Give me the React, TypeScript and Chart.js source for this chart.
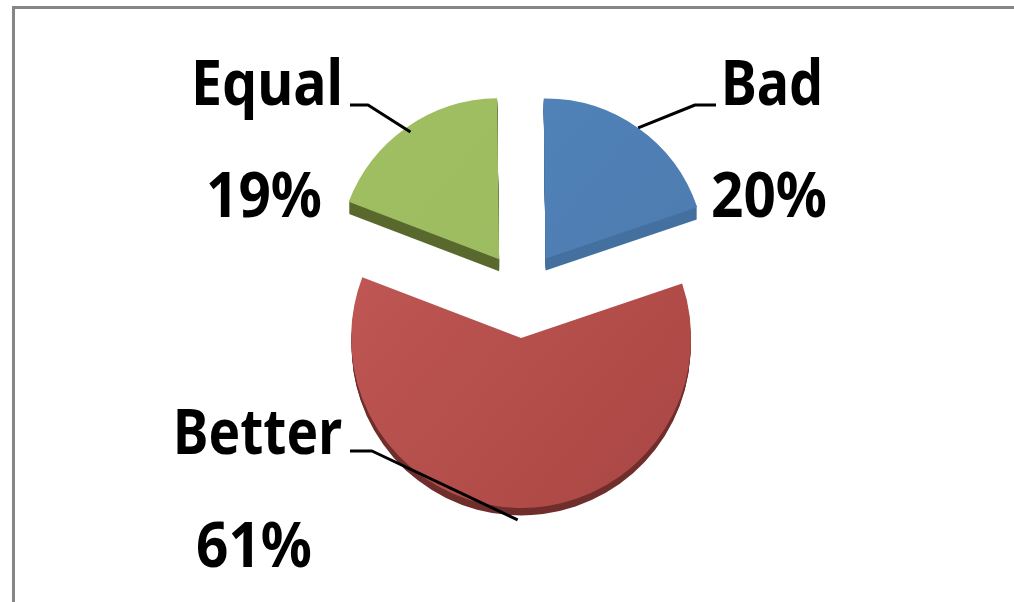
import React, { useEffect, useRef } from "react";
import { Chart, registerables } from "chart.js";

Chart.register(...registerables);

const categories = ["Bad", "Better", "Equal"];
const shares = [20, 61, 19];
const percentLabels = ["20%", "61%", "19%"];

const topLeftColors = ["#5386BD", "#C55C58", "#A0BE62"];
const bottomRightColors = ["#4B79AC", "#AC4845", "#9BB95E"];
const rimColors = ["#44709F", "#6F2E2C", "#59692E"];
const explode = [41, 46, 40];
const drawnRadius = [160, 170, 161];
const rimDepth = [12, 8, 12];

// Text boxes: [left, baseline, width] for name and for percentage
const nameBoxes = [
  [721, 105, 102],
  [173, 454, 169],
  [191, 105, 152],
];
const percentBoxes = [
  [711, 217, 116],
  [196, 567, 116],
  [206, 217, 116],
];
// Leader line: text end and elbow
const leaderStart = [
  [716, 105, 695, 105],
  [350, 451, 372, 451],
  [350, 105, 368, 105],
];
const leaderInset = [0, -12, 6];

const piePlugin = {
  id: "pieDecor",
  beforeDraw(chart: any) {
    const { ctx, width, height } = chart;
    ctx.save();
    ctx.fillStyle = "#ffffff";
    ctx.fillRect(0, 0, width, height);
    ctx.strokeStyle = "#868686";
    ctx.lineWidth = 3;
    ctx.beginPath();
    ctx.moveTo(13.5, height);
    ctx.lineTo(13.5, 7.5);
    ctx.lineTo(width, 7.5);
    ctx.stroke();
    ctx.restore();
  },
  afterDatasetUpdate(chart: any) {
    // explode each slice along its mid-angle and give it its own radius
    chart.getDatasetMeta(0).data.forEach((arc: any, i: number) => {
      const mid = (arc.startAngle + arc.endAngle) / 2;
      arc.x += Math.cos(mid) * explode[i];
      arc.y += Math.sin(mid) * explode[i];
      arc.outerRadius = drawnRadius[i];
    });
  },
  beforeDatasetsDraw(chart: any) {
    const { ctx } = chart;
    chart.getDatasetMeta(0).data.forEach((arc: any, i: number) => {
      ctx.save();
      ctx.fillStyle = rimColors[i];
      for (let d = 1; d <= rimDepth[i]; d++) {
        const cy = arc.y + d;
        ctx.beginPath();
        ctx.moveTo(arc.x, cy);
        ctx.arc(arc.x, cy, arc.outerRadius - 0.5, arc.startAngle, arc.endAngle);
        ctx.closePath();
        ctx.fill();
      }
      ctx.restore();
    });
  },
  afterDatasetsDraw(chart: any) {
    const { ctx } = chart;
    chart.getDatasetMeta(0).data.forEach((arc: any, i: number) => {
      const mid = (arc.startAngle + arc.endAngle) / 2;
      const r = arc.outerRadius - leaderInset[i];
      const ex = arc.x + Math.cos(mid) * r;
      const ey = arc.y + Math.sin(mid) * r;
      const [sx, sy, ax, ay] = leaderStart[i];
      ctx.save();
      ctx.strokeStyle = "#000000";
      ctx.lineWidth = 3;
      ctx.lineJoin = "round";
      ctx.beginPath();
      ctx.moveTo(sx, sy);
      ctx.lineTo(ax, ay);
      ctx.lineTo(ex, ey);
      ctx.stroke();

      ctx.fillStyle = "#000000";
      ctx.textAlign = "left";
      ctx.textBaseline = "alphabetic";
      ctx.font = 'bold 62px "Noto Sans", sans-serif';
      const [nx, ny, nw] = nameBoxes[i];
      ctx.fillText(categories[i], nx, ny, nw);
      const [px, py, pw] = percentBoxes[i];
      ctx.fillText(percentLabels[i], px, py, pw);
      ctx.restore();
    });
  },
};

export default function App() {
  const ref = useRef<HTMLCanvasElement | null>(null);
  useEffect(() => {
    const canvas = ref.current;
    if (!canvas) return;
    const ctx2d = canvas.getContext("2d")!;
    const fills = topLeftColors.map((c, i) => {
      const g = ctx2d.createLinearGradient(340, 100, 700, 400);
      g.addColorStop(0, c);
      g.addColorStop(1, bottomRightColors[i]);
      return g;
    });
    const chart = new Chart(canvas, {
      type: "pie",
      data: {
        labels: categories,
        datasets: [
          {
            data: shares,
            backgroundColor: fills,
            borderWidth: 0,
          },
        ],
      },
      options: {
        responsive: false,
        animation: false,
        devicePixelRatio: 1,
        radius: 160,
        rotation: -0.7,
        layout: { padding: { left: 30, right: 0, top: 0, bottom: 18 } },
        plugins: { legend: { display: false }, tooltip: { enabled: false }, title: { display: false } },
      } as any,
      plugins: [piePlugin],
    });
    return () => chart.destroy();
  }, []);
  return (
    <div style={{ position: "fixed", left: 0, top: 0, width: 1014, height: 602, background: "#fff" }}>
      <canvas ref={ref} width={1014} height={602} style={{ display: "block" }} />
    </div>
  );
}
